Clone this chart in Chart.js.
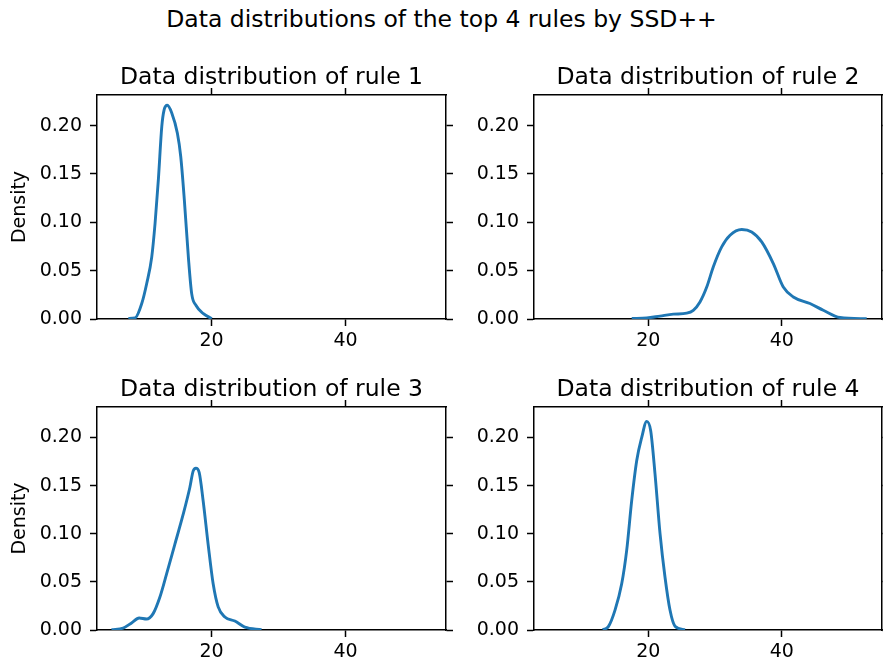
<!DOCTYPE html>
<html>
<head>
<meta charset="utf-8">
<title>Data distributions of the top 4 rules by SSD++</title>
<script src="https://cdn.jsdelivr.net/npm/chart.js@4"></script>
<style>
  body{margin:0;background:#fff;width:883px;height:667px;overflow:hidden;position:relative;font-family:"DejaVu Sans",sans-serif;}
  #suptitle{position:absolute;left:0;top:8.4px;width:883px;text-align:center;font-size:23.5px;line-height:23.5px;color:#000;}
  canvas{position:absolute;}
</style>
</head>
<body>
<div id="suptitle">Data distributions of the top 4 rules by SSD++</div>
<canvas id="rule1" width="456" height="319" style="left:0;top:50px"></canvas>
<canvas id="rule2" width="455" height="319" style="left:437px;top:50px"></canvas>
<canvas id="rule3" width="456" height="318" style="left:0;top:362px"></canvas>
<canvas id="rule4" width="455" height="318" style="left:437px;top:362px"></canvas>
<script>
// ================= DATA =================
const ruleTitles = ["Data distribution of rule 1","Data distribution of rule 2","Data distribution of rule 3","Data distribution of rule 4"];
const xTickValues = [20, 40];
const yTickValues = [0, 0.05, 0.10, 0.15, 0.20];
const xMin = 2.9, xMax = 55.0;
const yMax = 0.2316;

// density curves (x = value, y = density)
const rule1X = [7.58, 8.58, 9.58, 10.33, 11.07, 11.57, 12.06, 12.57, 12.91, 13.40, 14.06, 14.90, 15.40, 15.94, 16.54, 17.04, 17.69, 18.78, 20.03];
const rule1Y = [0.0005, 0.001, 0.016, 0.037, 0.064, 0.099, 0.144, 0.199, 0.216, 0.221, 0.213, 0.192, 0.168, 0.123, 0.064, 0.026, 0.014, 0.0056, 0.0003];

const rule2X = [17.53, 19.78, 21.77, 23.76, 25.76, 26.75, 27.75, 28.76, 29.75, 31.00, 32.25, 34.00, 35.49, 36.99, 38.73, 40.22, 41.72, 44.22, 46.21, 48.71, 52.71];
const rule2Y = [0.0005, 0.001, 0.003, 0.005, 0.006, 0.009, 0.0176, 0.033, 0.054, 0.0745, 0.0866, 0.0925, 0.090, 0.0797, 0.0573, 0.033, 0.0228, 0.016, 0.009, 0.0015, 0.0003];

const rule3X = [5.07, 6.81, 8.06, 9.19, 10.30, 11.28, 12.28, 13.28, 14.52, 15.76, 16.76, 17.25, 17.66, 18.15, 18.75, 19.49, 20.24, 20.99, 21.99, 23.48, 24.97, 27.46];
const rule3Y = [0.0003, 0.002, 0.0073, 0.0124, 0.0114, 0.017, 0.034, 0.058, 0.089, 0.12, 0.148, 0.165, 0.168, 0.1636, 0.134, 0.089, 0.048, 0.024, 0.0135, 0.0093, 0.003, 0.0003];

const rule4X = [13.19, 14.03, 15.03, 16.03, 16.78, 17.53, 18.28, 19.03, 19.78, 20.37, 21.02, 21.77, 22.51, 23.26, 24.01, 25.51];
const rule4Y = [0.0003, 0.0035, 0.0207, 0.048, 0.083, 0.1346, 0.176, 0.2, 0.2167, 0.207, 0.162, 0.1, 0.055, 0.0207, 0.004, 0.0003];

// ================= DEFAULTS =================
Chart.defaults.font.family = "'DejaVu Sans', sans-serif";
Chart.defaults.font.size = 19;
Chart.defaults.color = "#000";

// subplot title sits a fixed gap above the frame
const subplotTitle = {
  id: "subplotTitle",
  afterDraw(chart, args, opts){
    const {ctx, chartArea} = chart;
    ctx.save();
    ctx.font = "23.5px 'DejaVu Sans', sans-serif";
    ctx.fillStyle = "#000";
    ctx.textAlign = "center";
    ctx.textBaseline = "alphabetic";
    ctx.fillText(opts.text, (chartArea.left + chartArea.right) / 2, chartArea.top - 11.5);
    ctx.restore();
  }
};

const fixedSize = size => s => { if (s.isHorizontal()) s.height = size; else s.width = size; };
const setTicks = values => s => { s.ticks = values.map(v => ({value: v})); };

// ================= CHARTS =================
function drawDensity(id, xs, ys, title, showYLabel){
  const edge = {display: true, color: "#000", width: 1.5};
  const tickGrid = {drawOnChartArea: false, drawTicks: true, tickLength: 7, tickWidth: 1.5, tickColor: "#000", color: "#000"};

  new Chart(document.getElementById(id), {
    type: "line",
    data: {
      datasets: [{
        data: xs.map((x, i) => ({x: x, y: ys[i]})),
        borderColor: "#1f77b4",
        borderWidth: 2.9,
        pointRadius: 0,
        cubicInterpolationMode: "monotone",
        fill: false
      }]
    },
    options: {
      responsive: false,
      animation: false,
      events: [],
      layout: {padding: 0},
      plugins: {
        legend: {display: false},
        tooltip: {enabled: false},
        subplotTitle: {text: title}
      },
      scales: {
        x: {
          type: "linear", position: "bottom", bounds: "data", min: xMin, max: xMax,
          border: edge, grid: tickGrid,
          ticks: {padding: 4, maxRotation: 0, callback: v => String(v)},
          afterBuildTicks: setTicks(xTickValues), afterFit: fixedSize(50)
        },
        xTop: {
          type: "linear", position: "top", bounds: "data", min: xMin, max: xMax,
          border: edge, grid: tickGrid, ticks: {display: false},
          afterBuildTicks: setTicks(xTickValues), afterFit: fixedSize(45)
        },
        y: {
          type: "linear", position: "left", bounds: "data", min: 0, max: yMax,
          border: edge, grid: tickGrid,
          ticks: {padding: 8, callback: v => v.toFixed(2)},
          title: {display: showYLabel, text: "Density", padding: {top: 9, bottom: 0}, font: {size: 19}},
          afterBuildTicks: setTicks(yTickValues), afterFit: fixedSize(97)
        },
        yRight: {
          type: "linear", position: "right", bounds: "data", min: 0, max: yMax,
          border: edge, grid: tickGrid, ticks: {display: false},
          afterBuildTicks: setTicks(yTickValues), afterFit: fixedSize(10)
        }
      }
    },
    plugins: [subplotTitle]
  });
}

drawDensity("rule1", rule1X, rule1Y, ruleTitles[0], true);
drawDensity("rule2", rule2X, rule2Y, ruleTitles[1], false);
drawDensity("rule3", rule3X, rule3Y, ruleTitles[2], true);
drawDensity("rule4", rule4X, rule4Y, ruleTitles[3], false);
</script>
</body>
</html>
